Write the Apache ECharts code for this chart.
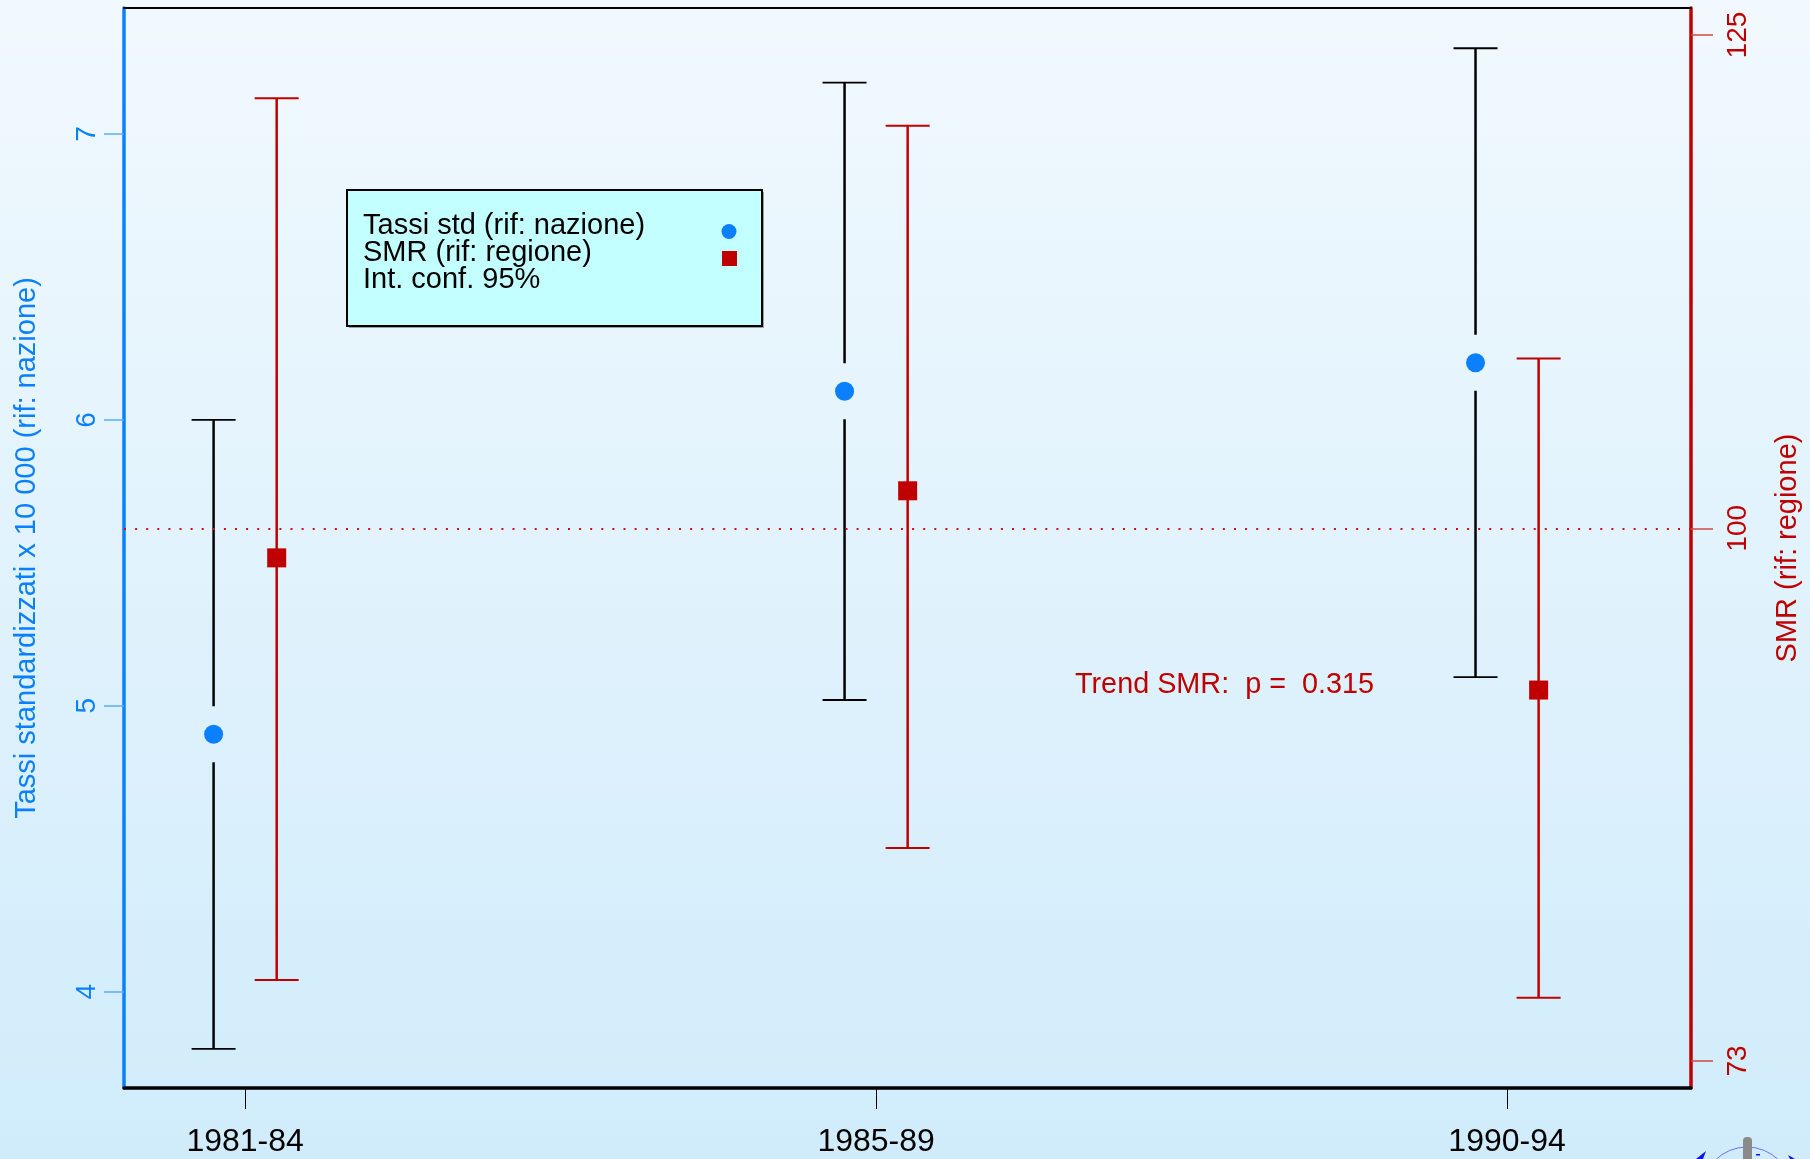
<!DOCTYPE html>
<html>
<head>
<meta charset="utf-8">
<title>Tassi standardizzati e SMR</title>
<script src="https://cdn.jsdelivr.net/npm/echarts@6/dist/echarts.min.js"></script>
<style>
  html, body { margin: 0; padding: 0; }
  #chart { width: 1810px; height: 1159px; }
</style>
</head>
<body>
<div id="chart"></div>
<script>
// Periodi di osservazione
const periods = ['1981-84', '1985-89', '1990-94'];

// Tassi standardizzati x 10 000 (rif: nazione) con intervallo di confidenza 95%
const rateStd  = [4.90, 6.10, 6.20];
const rateLow  = [3.80, 5.02, 5.10];
const rateHigh = [6.00, 7.18, 7.30];

// SMR (rif: regione) con intervallo di confidenza 95%
const smr     = [98.5, 101.9, 91.8];
const smrLow  = [77.1, 83.8, 76.2];
const smrHigh = [121.8, 120.4, 108.6];

// Tacche degli assi
const rateTicks = [4, 5, 6, 7];
const smrTicks = [73, 100, 125];
const smrReference = 100;
const trendLabel = 'Trend SMR:  p =  0.315';

const FONT = "'Liberation Sans', Arial, sans-serif";
const BLUE = '#0A80FF';
const RED = '#C00000';
const OFFSET = 0.05;

const chart = echarts.init(document.getElementById('chart'), null, { renderer: 'canvas' });

// Barra d'errore: segmento verticale con due tacche orizzontali; opzionalmente
// interrotto attorno al punto centrale.
function errorBar(color, lineW, capW, capHalf, gapPx) {
  return function (params, api) {
    const x = api.value(0);
    const pLo = api.coord([x, api.value(1)]);
    const pHi = api.coord([x, api.value(2)]);
    const pMid = api.coord([x, api.value(3)]);
    const stroke = { stroke: color, lineWidth: lineW };
    const children = [];
    if (gapPx > 0) {
      children.push({ type: 'line', shape: { x1: pHi[0], y1: pHi[1], x2: pMid[0], y2: pMid[1] - gapPx }, style: stroke });
      children.push({ type: 'line', shape: { x1: pMid[0], y1: pMid[1] + gapPx, x2: pLo[0], y2: pLo[1] }, style: stroke });
    } else {
      children.push({ type: 'line', shape: { x1: pHi[0], y1: pHi[1], x2: pLo[0], y2: pLo[1] }, style: stroke });
    }
    [pHi, pLo].forEach(function (p) {
      children.push({ type: 'line', shape: { x1: p[0] - capHalf, y1: p[1], x2: p[0] + capHalf, y2: p[1] },
        style: { stroke: color, lineWidth: capW } });
    });
    return { type: 'group', children: children };
  };
}

const rateBars = periods.map((p, i) => [i + 1 - OFFSET, rateLow[i], rateHigh[i], rateStd[i]]);
const smrBars = periods.map((p, i) => [i + 1 + OFFSET, smrLow[i], smrHigh[i], smr[i]]);
const ratePoints = periods.map((p, i) => [i + 1 - OFFSET, rateStd[i]]);
const smrPoints = periods.map((p, i) => [i + 1 + OFFSET, smr[i]]);

const option = {
  animation: false,
  backgroundColor: {
    type: 'linear', x: 0, y: 0, x2: 0, y2: 1,
    colorStops: [{ offset: 0, color: '#F1F9FE' }, { offset: 1, color: '#D0ECFB' }]
  },
  grid: { left: 124, top: 8, width: 1567, height: 1080, containLabel: false },
  xAxis: [{
    type: 'value', min: 0.808, max: 3.2915, position: 'bottom',
    splitLine: { show: false },
    axisLine: { show: true, onZero: false, lineStyle: { color: '#000', width: 3.5 } },
    axisTick: { show: true, length: 21, customValues: [1, 2, 3], lineStyle: { color: '#000', width: 1 } },
    axisLabel: {
      show: true, customValues: [1, 2, 3], margin: 38,
      formatter: v => periods[Math.round(v) - 1],
      color: '#000', fontSize: 32, fontFamily: FONT
    }
  }, {
    // bordo superiore del riquadro
    type: 'value', min: 0.808, max: 3.2915, position: 'top',
    splitLine: { show: false },
    axisLine: { show: true, onZero: false, lineStyle: { color: '#000', width: 1.8 } },
    axisTick: { show: false }, axisLabel: { show: false }
  }],
  yAxis: [{
    type: 'value', min: 3.6628, max: 7.4408, position: 'left',
    splitLine: { show: false },
    axisLine: { show: true, onZero: false, lineStyle: { color: BLUE, width: 3.5 } },
    axisTick: { show: true, length: 20, customValues: rateTicks, lineStyle: { color: '#5AAAFF', width: 1.5 } },
    axisLabel: {
      show: true, customValues: rateTicks, rotate: 90, margin: 23,
      color: BLUE, fontSize: 28, fontFamily: FONT
    }
  }, {
    type: 'value', min: 71.63, max: 126.37, position: 'right',
    splitLine: { show: false },
    axisLine: { show: true, onZero: false, lineStyle: { color: RED, width: 3.5 } },
    axisTick: { show: true, length: 22, customValues: smrTicks, lineStyle: { color: '#D04848', width: 1.5 } },
    axisLabel: {
      show: true, customValues: smrTicks, rotate: 90, margin: 33,
      color: RED, fontSize: 28, fontFamily: FONT
    }
  }],
  series: [{
    name: 'IC tassi', type: 'custom', xAxisIndex: 0, yAxisIndex: 0,
    renderItem: errorBar('#000', 2.5, 1.8, 22, 28),
    encode: { x: 0, y: [1, 2, 3] },
    data: rateBars, z: 3
  }, {
    name: 'IC SMR', type: 'custom', xAxisIndex: 0, yAxisIndex: 1,
    renderItem: errorBar(RED, 2.5, 2, 22, 0),
    encode: { x: 0, y: [1, 2, 3] },
    data: smrBars, z: 3,
    markLine: {
      silent: true, symbol: 'none', label: { show: false },
      lineStyle: { color: '#D01010', width: 2, type: [2, 9.1] },
      data: [{ yAxis: smrReference }]
    }
  }, {
    name: 'Tassi std (rif: nazione)', type: 'scatter', xAxisIndex: 0, yAxisIndex: 0,
    symbol: 'circle', symbolSize: 19, itemStyle: { color: BLUE, opacity: 1 },
    data: ratePoints, z: 5
  }, {
    name: 'SMR (rif: regione)', type: 'scatter', xAxisIndex: 0, yAxisIndex: 1,
    symbol: 'rect', symbolSize: 19, itemStyle: { color: RED, opacity: 1 },
    data: smrPoints, z: 5
  }],
  graphic: [
    // titoli degli assi verticali
    { type: 'text', x: 27, y: 548, rotation: Math.PI / 2,
      style: { text: 'Tassi standardizzati x 10 000 (rif: nazione)', fill: BLUE, font: '29px ' + FONT,
        align: 'center', verticalAlign: 'middle' } },
    { type: 'text', x: 1788, y: 548, rotation: Math.PI / 2,
      style: { text: 'SMR (rif: regione)', fill: RED, font: '29px ' + FONT,
        align: 'center', verticalAlign: 'middle' } },
    // test di trend
    { type: 'text', x: 1075, y: 685,
      style: { text: trendLabel, fill: RED, font: '28.8px ' + FONT, align: 'left', verticalAlign: 'middle' } },
    // riquadro della legenda
    { type: 'group', children: [
      { type: 'rect', shape: { x: 349, y: 192, width: 415, height: 136 }, style: { fill: 'rgba(0,0,0,0.35)' } },
      { type: 'rect', shape: { x: 347, y: 190, width: 415, height: 136 },
        style: { fill: '#C4FFFF', stroke: '#000', lineWidth: 2 } },
      { type: 'text', x: 363, y: 225.5, style: { text: 'Tassi std (rif: nazione)', fill: '#000', font: '29px ' + FONT, verticalAlign: 'middle' } },
      { type: 'text', x: 363, y: 252.5, style: { text: 'SMR (rif: regione)', fill: '#000', font: '29px ' + FONT, verticalAlign: 'middle' } },
      { type: 'text', x: 363, y: 279.5, style: { text: 'Int. conf. 95%', fill: '#000', font: '29px ' + FONT, verticalAlign: 'middle' } },
      { type: 'circle', shape: { cx: 729, cy: 231.5, r: 7.5 }, style: { fill: BLUE } },
      { type: 'rect', shape: { x: 722, y: 251, width: 15, height: 15 }, style: { fill: RED } }
    ] },
    // emblema nell'angolo in basso a destra
    { type: 'group', children: [
      { type: 'circle', shape: { cx: 1747, cy: 1192, r: 45 }, style: { fill: 'none', stroke: '#6F6FFF', lineWidth: 1 } },
      { type: 'rect', shape: { x: 1743, y: 1137, width: 9, height: 30, r: 4 }, style: { fill: '#8A8A8A' } },
      { type: 'polygon', shape: { points: [[1706, 1151], [1696, 1159], [1703, 1159]] }, style: { fill: '#1010F0' } },
      { type: 'polygon', shape: { points: [[1788, 1155], [1795, 1159], [1790, 1159]] }, style: { fill: '#1010F0' } },
      { type: 'rect', shape: { x: 1756, y: 1154, width: 4, height: 1.5 }, style: { fill: '#1010F0' } }
    ] }
  ]
};

chart.setOption(option);
</script>
</body>
</html>
